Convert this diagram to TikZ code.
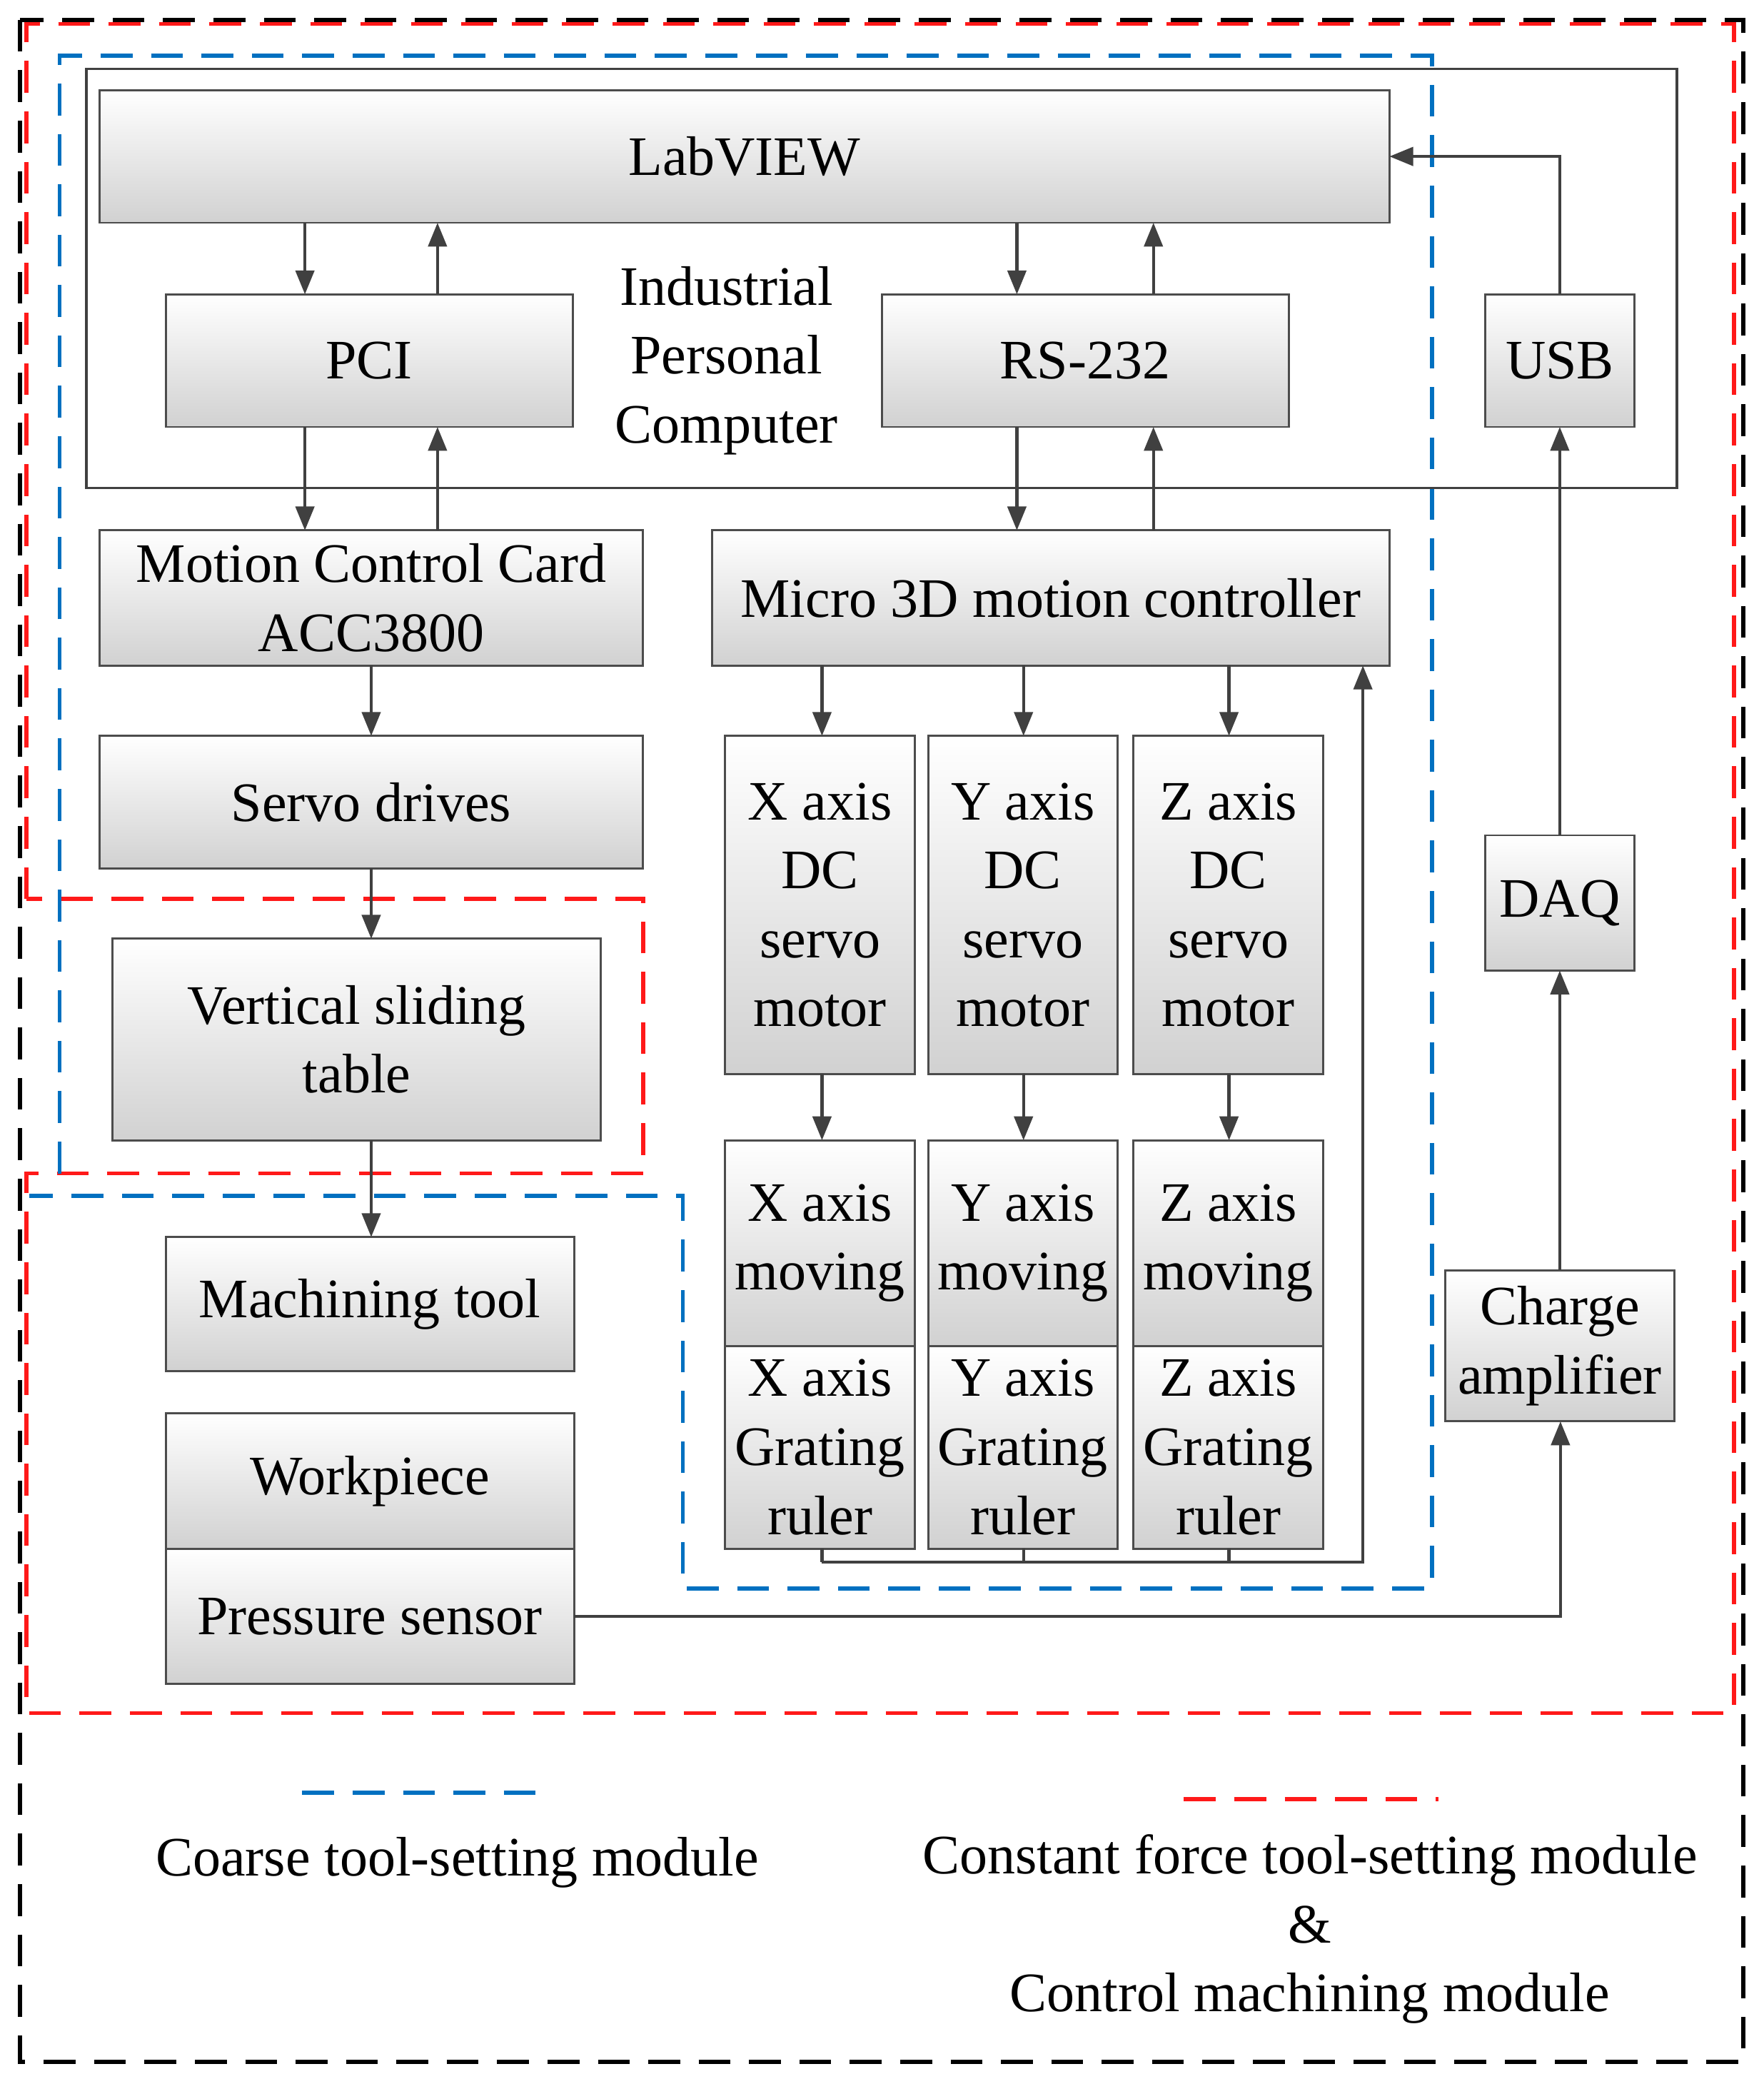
\documentclass[tikz,border=0pt]{standalone}
\usepackage{fontspec}
\setmainfont{Liberation Serif}
\usetikzlibrary{arrows.meta}
\definecolor{lblue}{RGB}{0,112,192}
\begin{document}
\begin{tikzpicture}[x=0.5pt,y=-0.5pt,
 box/.style={draw=black!70,line width=0.8pt,top color=white,bottom color=black!18,inner sep=0pt,outer sep=0pt,align=center,font=\fontsize{21}{26}\selectfont},
 ar/.style={draw=black!75,line width=1.2pt,-{Triangle[length=9pt,width=7pt]}},
 ln/.style={draw=black!75,line width=1.2pt},
 bd/.style={draw=lblue,line width=1.5pt,dash pattern=on 12pt off 7pt},
 rd/.style={draw=red!90,line width=1.5pt,dash pattern=on 12pt off 7pt}]
\newcommand\bx[6]{\node[box,minimum width={(#4-#2)*0.5pt},minimum height={(#5-#3)*0.5pt}] (#1) at ({(#2+#4)/2},{(#3+#5)/2}) {#6};}
\useasboundingbox (0,0) rectangle (1330,1568);
\fill[white] (0,0) rectangle (1330,1568);
\draw[line width=1.5pt,dash pattern=on 12pt off 7pt] (15,15) rectangle (1315,1555);
\draw[rd] (20,678)--(20,18)--(1308,18)--(1308,1292)--(20,1292)--(20,885)--(485,885)--(485,678)--(20,678);
\draw[bd] (45,885)--(45,42)--(1080,42)--(1080,1198)--(515,1198)--(515,902)--(22,902);
\draw[black!75,line width=1pt] (65,52) rectangle (1265,368);
\bx{lab}{75}{68}{1048}{168}{LabVIEW}
\bx{pci}{125}{222}{432}{322}{PCI}
\bx{rs}{665}{222}{972}{322}{RS-232}
\bx{usb}{1120}{222}{1233}{322}{USB}
\node[align=center,font=\fontsize{21}{26}\selectfont] (ipc) at (548,272) {Industrial\\Personal\\Computer};
\bx{mcc}{75}{400}{485}{502}{Motion Control Card\\ACC3800}
\bx{mic}{537}{400}{1048}{502}{Micro 3D motion controller}
\bx{srv}{75}{555}{485}{655}{Servo drives}
\bx{vst}{85}{708}{453}{860}{Vertical sliding\\table}
\bx{mt}{125}{933}{433}{1034}{Machining tool}
\bx{wp}{125}{1066}{433}{1168}{Workpiece}
\bx{ps}{125}{1168}{433}{1270}{Pressure sensor}
\bx{xm}{547}{555}{690}{810}{X axis\\DC\\servo\\motor}
\bx{ym}{700}{555}{843}{810}{Y axis\\DC\\servo\\motor}
\bx{zm}{855}{555}{998}{810}{Z axis\\DC\\servo\\motor}
\bx{xv}{547}{860}{690}{1015}{X axis\\moving}
\bx{yv}{700}{860}{843}{1015}{Y axis\\moving}
\bx{zv}{855}{860}{998}{1015}{Z axis\\moving}
\bx{xg}{547}{1015}{690}{1168}{X axis\\Grating\\ruler}
\bx{yg}{700}{1015}{843}{1168}{Y axis\\Grating\\ruler}
\bx{zg}{855}{1015}{998}{1168}{Z axis\\Grating\\ruler}
\bx{daq}{1120}{630}{1233}{732}{DAQ}
\bx{cha}{1090}{958}{1263}{1072}{Charge\\amplifier}
\coordinate (ca) at (230,0); \coordinate (cb) at (330,0);
\coordinate (cc) at (767,0); \coordinate (cd) at (870,0);
\coordinate (cu) at (1177,0); \coordinate (cm) at (280,0);
\coordinate (c1) at (620,0); \coordinate (c2) at (772,0); \coordinate (c3) at (927,0);
\coordinate (cf) at (1028,0); \coordinate (cy) at (0,1178); \coordinate (cl) at (0,118);
\draw[ar] (lab.south -| ca) -- (pci.north -| ca);
\draw[ar] (pci.north -| cb) -- (lab.south -| cb);
\draw[ar] (pci.south -| ca) -- (mcc.north -| ca);
\draw[ar] (mcc.north -| cb) -- (pci.south -| cb);
\draw[ar] (lab.south -| cc) -- (rs.north -| cc);
\draw[ar] (rs.north -| cd) -- (lab.south -| cd);
\draw[ar] (rs.south -| cc) -- (mic.north -| cc);
\draw[ar] (mic.north -| cd) -- (rs.south -| cd);
\draw[ar] (usb.north) -- (usb.north |- cl) -- (lab.east |- cl);
\draw[ar] (daq.north) -- (usb.south);
\draw[ar] (cha.north) -- (daq.south);
\draw[ar] (ps.east) -- (ps.east -| cu) -- (cha.south -| cu);
\draw[ar] (mcc.south -| cm) -- (srv.north -| cm);
\draw[ar] (srv.south -| cm) -- (vst.north -| cm);
\draw[ar] (vst.south -| cm) -- (mt.north -| cm);
\draw[ar] (mic.south -| c1) -- (xm.north -| c1);
\draw[ar] (mic.south -| c2) -- (ym.north -| c2);
\draw[ar] (mic.south -| c3) -- (zm.north -| c3);
\draw[ar] (xm.south -| c1) -- (xv.north -| c1);
\draw[ar] (ym.south -| c2) -- (yv.north -| c2);
\draw[ar] (zm.south -| c3) -- (zv.north -| c3);
\draw[ln] (xg.south -| c1) -- (c1 |- cy);
\draw[ln] (yg.south -| c2) -- (c2 |- cy);
\draw[ln] (zg.south -| c3) -- (c3 |- cy);
\draw[ar] (c1 |- cy) -- (cf |- cy) -- (mic.south -| cf);
\draw[bd] (228,1352) -- (415,1352);
\draw[rd] (893,1357) -- (1085,1357);
\node[font=\fontsize{21}{26}\selectfont] (lg1) at (345,1405) {Coarse tool-setting module};
\node[align=center,font=\fontsize{21}{26}\selectfont] (lg2) at (988,1455) {Constant force tool-setting module\\\&\\Control machining module};
\end{tikzpicture}
\end{document}
